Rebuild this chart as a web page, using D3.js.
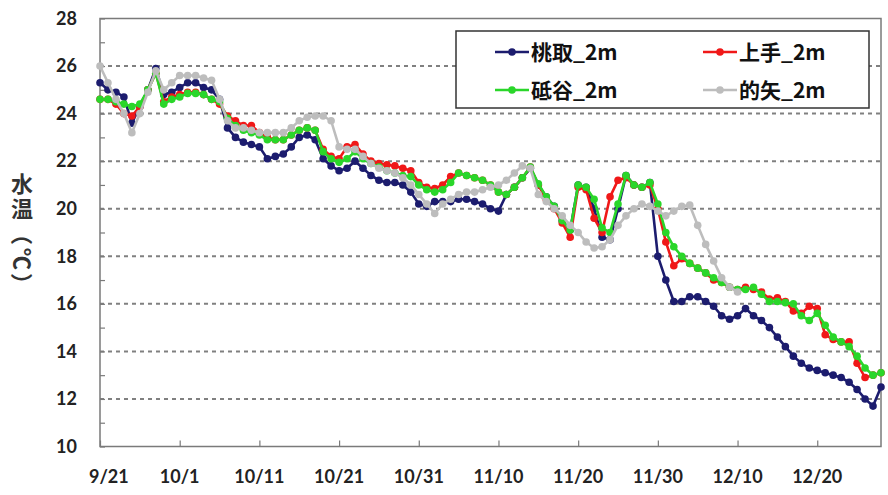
<!DOCTYPE html>
<html lang="ja">
<head>
<meta charset="UTF-8">
<title>水温</title>
<script src="https://d3js.org/d3.v7.min.js"></script>
<style>
  body { margin: 0; background: #fff; }
  .tick-label { font-family: Lato, "Liberation Sans", sans-serif; font-weight: bold; font-size: 18px; fill: #222; }
  .legend text { font-family: "Noto Sans CJK JP", sans-serif; font-weight: bold; font-size: 21px; fill: #111; }
  .ytitle { font-family: "Noto Sans CJK JP", sans-serif; font-weight: bold; font-size: 22px; fill: #333; }
</style>
</head>
<body>
<svg width="888" height="495"></svg>
<script>
// days counted from 9/21 (0) to 12/28 (98)
const tickDays = [0, 10, 20, 30, 40, 50, 60, 70, 80, 90];
const tickLabels = ["9/21", "10/1", "10/11", "10/21", "10/31", "11/10", "11/20", "11/30", "12/10", "12/20"];
const yTicks = [10, 12, 14, 16, 18, 20, 22, 24, 26, 28];

const seriesNames = ["桃取_2m", "上手_2m", "砥谷_2m", "的矢_2m"];
const seriesColors = ["#1c1c6e", "#f01818", "#2ad62a", "#bdbdbd"];

const momotori = [
  25.3, 25.0, 24.9, 24.7, 23.6, 24.3, 25.0, 25.9, 24.8, 24.9,
  25.1, 25.3, 25.3, 25.1, 25.0, 24.6, 23.4, 23.0, 22.8, 22.7,
  22.6, 22.1, 22.2, 22.3, 22.6, 23.0, 23.1, 22.9, 22.1, 21.8,
  21.6, 21.7, 22.0, 21.7, 21.4, 21.2, 21.1, 21.1, 21.0, 20.7,
  20.2, 20.1, 20.3, 20.3, 20.3, 20.4, 20.4, 20.3, 20.2, 20.0,
  19.9, 20.6, 20.9, 21.3, 21.7, 21.0, 20.5, 20.1, 19.5, 19.1,
  21.0, 20.9, 20.0, 18.8, 18.7, 20.0, 21.4, 21.0, 20.9, 21.1,
  18.0, 17.0, 16.1, 16.1, 16.3, 16.3, 16.1, 15.9, 15.5, 15.35,
  15.5, 15.8, 15.5, 15.3, 15.0, 14.6, 14.2, 13.8, 13.5, 13.3,
  13.2, 13.1, 13.0, 12.9, 12.7, 12.4, 12.0, 11.7, 12.5
];
const kamite = [
  24.6, 24.6, 24.4, 24.0, 23.9, 24.3, 25.0, 25.7, 24.5, 24.7,
  24.8, 24.9, 24.9, 24.8, 24.6, 24.4, 23.9, 23.7, 23.5, 23.5,
  23.2, 23.0, 22.9, 22.9, 23.1, 23.3, 23.4, 23.3, 22.5, 22.2,
  22.1, 22.6, 22.7, 22.3, 22.0, 21.9, 21.85, 21.8, 21.7, 21.6,
  21.1, 20.9, 20.85, 21.0, 21.35, 21.5, 21.4, 21.3, 21.2, 21.0,
  20.7, 20.6, 20.9, 21.3, 21.75, 21.0, 20.4, 20.0, 19.4, 18.8,
  20.9, 20.8, 19.6, 19.0, 20.5, 21.2, 21.3, 21.0, 20.9, 21.0,
  20.0, 18.6, 17.6, 17.9, 17.7, 17.5, 17.3, 17.0, 16.9, 16.7,
  16.6, 16.7, 16.6, 16.5, 16.2, 16.25, 16.1, 15.7, 15.6, 15.9,
  15.8, 14.7, 14.5, 14.4, 14.4, 13.5, 12.9, 13.0, 13.1
];
const toidani = [
  24.6, 24.6, 24.5, 24.4, 24.3, 24.4, 25.0, 25.7, 24.4, 24.6,
  24.7, 24.85, 24.85, 24.8, 24.6, 24.5, 23.8, 23.5, 23.3, 23.2,
  23.1, 22.9, 22.9, 22.9, 23.1, 23.3, 23.4, 23.3, 22.4, 22.1,
  21.95, 22.1, 22.4, 22.1, 21.9, 21.75, 21.6, 21.5, 21.4, 21.35,
  21.0, 20.8, 20.7, 20.8, 21.1, 21.5, 21.4, 21.3, 21.2, 21.0,
  20.7, 20.6, 20.9, 21.3, 21.75, 21.05, 20.5, 20.1, 19.5, 19.1,
  21.0, 20.9, 20.4, 19.2, 19.0, 20.2, 21.4, 21.0, 20.9, 21.1,
  20.2, 19.0, 18.4, 18.0, 17.7, 17.5, 17.3, 17.1, 16.9, 16.7,
  16.6, 16.6, 16.7, 16.4, 16.1, 16.1, 16.05, 16.0, 15.5, 15.3,
  15.6, 15.1, 14.6, 14.4, 14.2, 13.8, 13.3, 13.0, 13.1
];
const matoya = [
  26.0, 25.3, 24.6, 24.0, 23.2, 24.0, 24.9, 25.8, 25.0, 25.3,
  25.6, 25.6, 25.6, 25.5, 25.4, 24.6, 23.7, 23.4, 23.4, 23.3,
  23.2, 23.2, 23.2, 23.2, 23.4, 23.7, 23.85, 23.9, 23.9, 23.7,
  22.6, 22.5, 22.5, 22.2, 21.9, 21.7, 21.6, 21.5, 21.3, 21.0,
  20.6, 20.2, 19.8, 20.2, 20.4, 20.6, 20.7, 20.7, 20.8, 20.9,
  21.0, 21.2, 21.5, 21.8, 21.7, 20.6, 20.3, 20.0, 19.7, 19.3,
  19.0, 18.6, 18.35, 18.4, 18.7, 19.3, 19.7, 20.0, 20.2, 20.1,
  19.9, 19.7, 19.9, 20.1, 20.15, 19.3, 18.5, 17.8, 17.1, 16.7,
  16.5, null, null, null, null, null, null, null, null, null,
  null, null, null, null, null, null, null, null, null
];
const seriesValues = [momotori, kamite, toidani, matoya];

const svg = d3.select("svg");
const plotLeft = 100, plotRight = 881, plotTop = 18.5, plotBottom = 446.5;

const x = d3.scaleLinear().domain([0, 98]).range([plotLeft, plotRight]);
const y = d3.scaleLinear().domain([10, 28]).range([plotBottom, plotTop]);

svg.append("rect").attr("width", 888).attr("height", 495).attr("fill", "#fff");

// dashed gridlines
svg.append("g")
  .selectAll("line")
  .data(yTicks.filter(v => v > 10 && v < 28))
  .enter().append("line")
  .attr("x1", plotLeft).attr("x2", plotRight)
  .attr("y1", d => y(d)).attr("y2", d => y(d))
  .attr("stroke", "#808080")
  .attr("stroke-width", 2)
  .attr("stroke-dasharray", "4,4");

// frame
svg.append("rect")
  .attr("x", plotLeft).attr("y", plotTop)
  .attr("width", plotRight - plotLeft).attr("height", plotBottom - plotTop)
  .attr("fill", "none").attr("stroke", "#7a7a7a").attr("stroke-width", 1.5);

// y axis: minor ticks inside
const yAxis = d3.axisRight(y).tickValues(d3.range(10, 29, 1)).tickSize(5).tickFormat("");
svg.append("g").attr("transform", `translate(${plotLeft},0)`).call(yAxis)
  .call(g => g.select(".domain").remove())
  .call(g => g.selectAll("line").attr("stroke", "#7a7a7a").attr("stroke-width", 1.2));

svg.append("g").selectAll("text")
  .data(yTicks).enter().append("text")
  .attr("class", "tick-label")
  .attr("x", 77).attr("y", d => y(d)).attr("dy", "0.35em")
  .attr("text-anchor", "end")
  .text(d => d);

// x axis: ticks pointing up
const xAxis = d3.axisTop(x).tickValues(tickDays).tickSize(6).tickFormat("");
svg.append("g").attr("transform", `translate(0,${plotBottom})`).call(xAxis)
  .call(g => g.select(".domain").remove())
  .call(g => g.selectAll("line").attr("stroke", "#7a7a7a").attr("stroke-width", 1.2));

svg.append("g").selectAll("text")
  .data(tickDays).enter().append("text")
  .attr("class", "tick-label")
  .attr("x", (d, i) => i === 0 ? 89 : x(d)).attr("y", 477).attr("dy", "0.35em")
  .attr("text-anchor", (d, i) => i === 0 ? "start" : "middle")
  .text((d, i) => tickLabels[i]);

// y title, stacked vertically; brackets and ℃ turned sideways
const titleChars = ["水", "温", "（", "℃", "）"];
const titleRot = [0, 0, 90, 90, 90];
svg.append("g").selectAll("text")
  .data(titleChars).enter().append("text")
  .attr("class", "ytitle")
  .attr("text-anchor", "middle").attr("dy", "0.35em")
  .attr("transform", (d, i) => `translate(22,${184 + i * 25}) rotate(${titleRot[i]})`)
  .text(d => d);

// series
const line = d3.line()
  .defined(d => d != null)
  .x((d, i) => x(i))
  .y(d => y(d));

seriesValues.forEach((vals, k) => {
  const g = svg.append("g");
  g.append("path")
    .attr("d", line(vals))
    .attr("fill", "none")
    .attr("stroke", seriesColors[k])
    .attr("stroke-width", 2.6);
  g.selectAll("circle")
    .data(vals.map((v, i) => ({ v, i })).filter(d => d.v != null))
    .enter().append("circle")
    .attr("cx", d => x(d.i)).attr("cy", d => y(d.v))
    .attr("r", 3.8)
    .attr("fill", seriesColors[k]);
});

// legend
const legend = svg.append("g").attr("class", "legend");
legend.append("rect")
  .attr("x", 456).attr("y", 31).attr("width", 413).attr("height", 77)
  .attr("fill", "#fff").attr("stroke", "#333").attr("stroke-width", 1.5);

const legPos = [[495, 52], [703, 52], [495, 90], [703, 90]];
seriesNames.forEach((name, k) => {
  const [lx, ly] = legPos[k];
  legend.append("line")
    .attr("x1", lx).attr("x2", lx + 34).attr("y1", ly).attr("y2", ly)
    .attr("stroke", seriesColors[k]).attr("stroke-width", 2.6);
  legend.append("circle")
    .attr("cx", lx + 17).attr("cy", ly).attr("r", 3.8)
    .attr("fill", seriesColors[k]);
  legend.append("text")
    .attr("x", lx + 36).attr("y", ly).attr("dy", "0.36em")
    .text(name);
});
</script>
</body>
</html>
